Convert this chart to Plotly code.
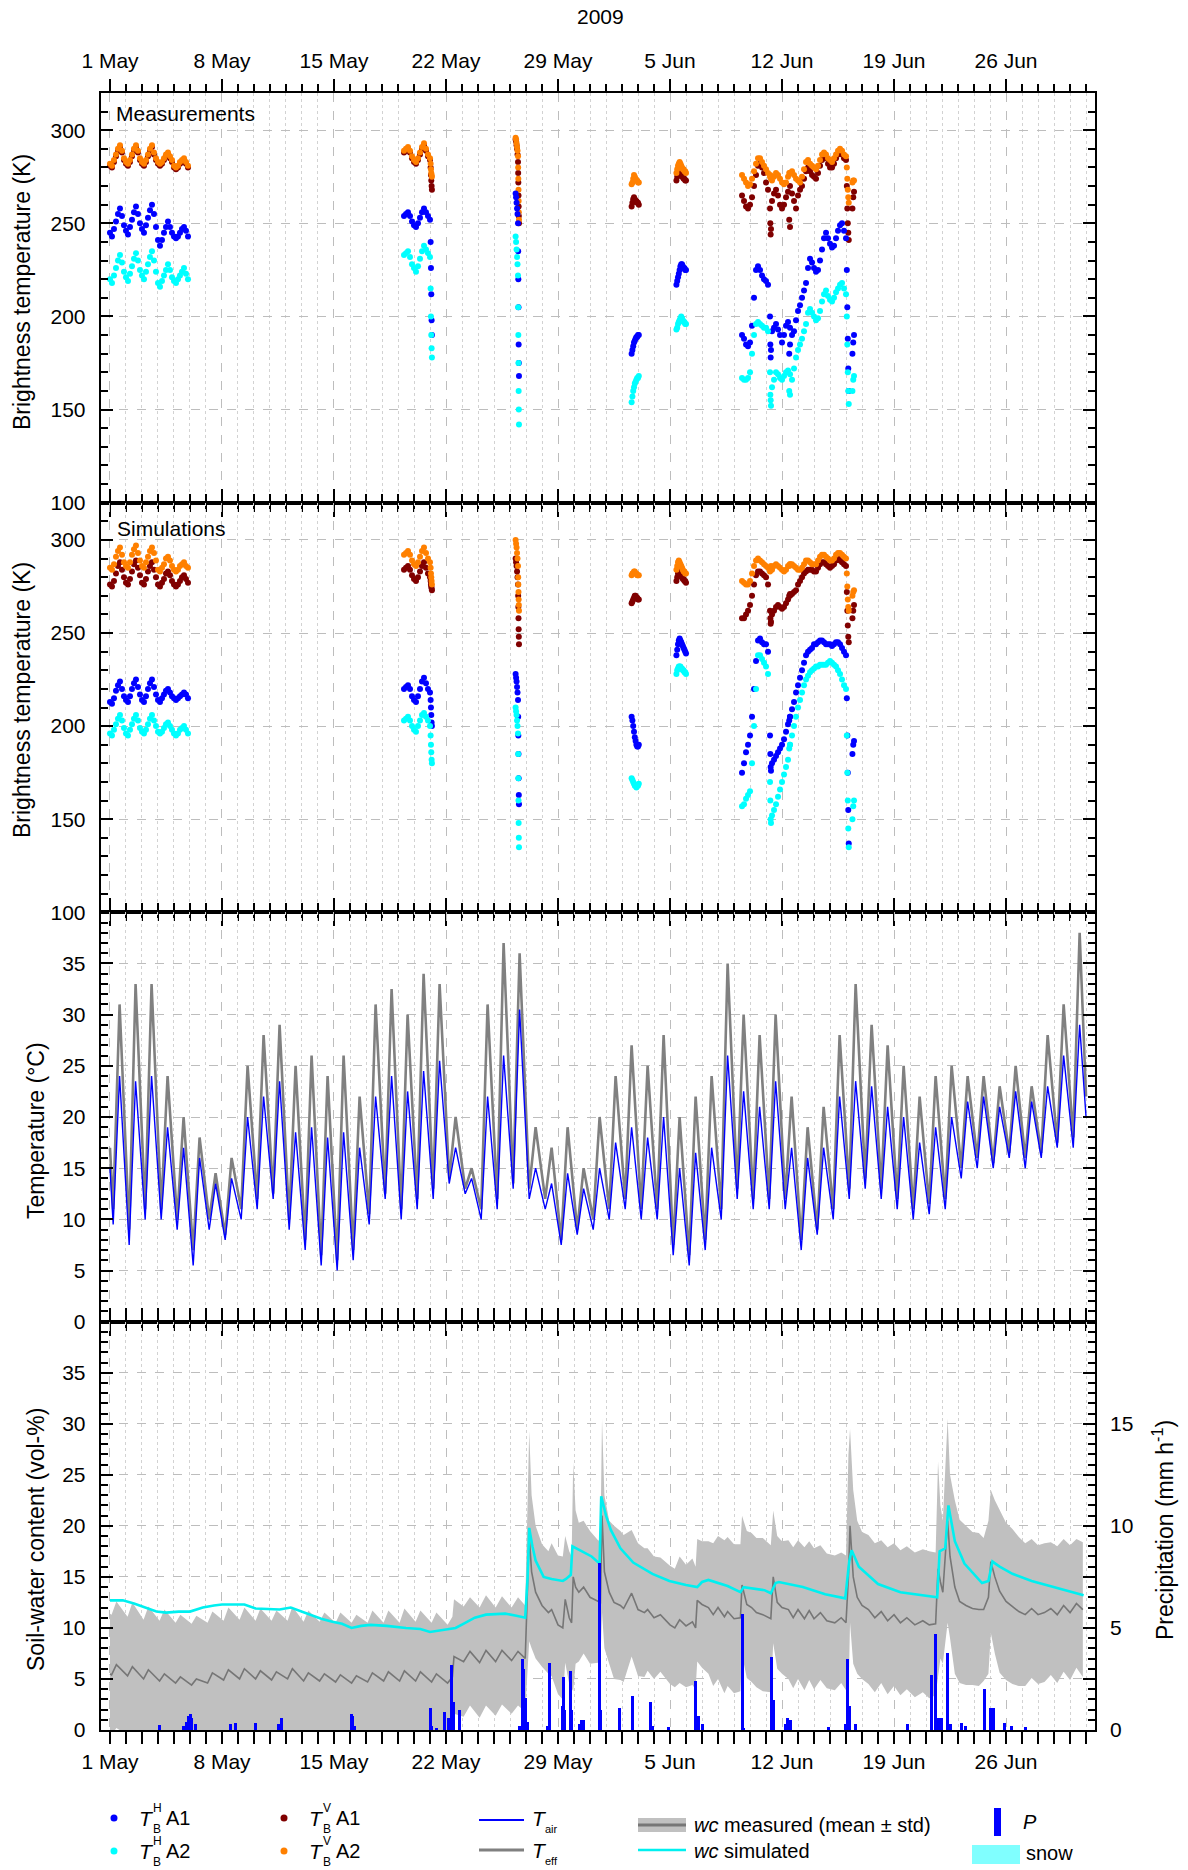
import plotly.graph_objects as go

FONT = "Liberation Sans, Arial, sans-serif"
W, H = 1188, 1870

# ---------------- axis labels ----------------
major_days = [0, 7, 14, 21, 28, 35, 42, 49, 56]
day_labels = ["1 May", "8 May", "15 May", "22 May", "29 May", "5 Jun", "12 Jun", "19 Jun", "26 Jun"]
minor_days = [d for d in range(0, 62) if d % 7 != 0]
year_label = "2009"

# ---------------- brightness temperature time grid (days since 1 May 2009) ----------------
def grid(start, step, n):
    return [round(start + i * step, 4) for i in range(n)]

t_segA = grid(0.0, 0.125, 40)
t_segB = grid(18.375, 0.125, 14) + [20.04, 20.06, 20.08, 20.10, 20.12]
t_segC = [25.35, 25.38, 25.41, 25.44, 25.47, 25.50, 25.51, 25.52, 25.53, 25.54, 25.55, 25.56]
t_segD = grid(32.6, 0.05, 10)
t_segE = grid(35.4, 0.05, 13)
t_segF = grid(39.5, 0.125, 53) + [46.05, 46.08, 46.11, 46.14, 46.17] + [46.40, 46.45, 46.50] + [41.27, 41.29, 41.31, 42.45, 42.50]
t_tb = t_segA + t_segB + t_segC + t_segD + t_segE + t_segF

# ---------------- measured TB (K) ----------------
meas_h1 = [245,243,247,251,255,258,254,249, 246,244,248,252,256,259,255,250, 247,245,249,253,257,260,255,248, 241,238,241,245,248,251,248,245, 243,242,243,245,247,248,246,243,
           254,255,256,254,251,249,248,250,253,256,258,256,254,252, 240,226,212,198,190,
           266,264,261,258,255,250,235,220,205,185,175,168,
           180,182,184,186,187,188,189,189,190,190,
           217,219,221,223,225,227,228,228,227,226,226,225,225,
           190,188,185,184, 186,195,210,225,227,225,222,220, 219,217,200,192,194,196,193,190, 186,190,195,197,194,190,192,198, 203,206,210,214,218,226,231,229, 226,224,225,230,236,242,245,242, 239,237,238,242,246,249,250,246, 242, 225,205,188,172,160, 180,186,190, 185,178,182,180,185]
meas_h2 = [220,218,222,226,230,233,229,224, 221,219,223,227,231,234,230,225, 222,220,224,228,232,235,230,224, 218,216,219,222,225,228,225,221, 219,218,220,222,224,226,223,220,
           233,234,235,232,228,226,224,227,231,235,238,236,234,232, 215,200,190,183,178,
           243,240,236,232,228,222,205,190,175,160,150,142,
           154,157,160,162,164,165,166,167,167,168,
           193,194,196,197,198,199,200,199,198,197,197,196,196,
           167,166,166,167, 170,180,190,196,197,196,195,194, 194,192,170,162,166,170,169,167, 166,168,170,171,169,166,172,178, 182,185,188,192,196,202,204,202, 200,198,199,203,208,212,214,211, 209,208,210,213,215,217,218,215, 212, 200,185,170,160,153, 160,166,168, 158,155,152,160,158]
meas_v1 = [281,280,283,286,289,291,288,284, 282,281,283,286,289,291,288,284, 282,281,283,286,289,291,287,284, 282,281,282,284,286,287,285,283, 280,279,280,282,283,284,282,280,
           288,289,290,288,285,283,282,284,287,290,292,289,286,284, 280,276,273,270,268,
           295,294,292,290,287,283,277,272,265,259,254,250,
           259,261,263,264,263,262,262,261,261,260,
           273,275,277,279,278,277,276,275,275,274,274,273,273,
           265,262,259,258, 260,264,270,276,281,282,280,277, 272,268,258,262,266,268,265,260, 258,260,264,267,270,266,262,258, 265,268,270,274,278,280,278,276, 275,274,277,281,284,286,285,282, 280,280,282,285,287,288,287,285, 284, 270,258,250,245,241, 258,264,267, 250,244,247,252,248]
meas_v2 = [282,281,284,287,290,292,289,285, 283,282,284,287,290,292,289,285, 283,282,284,287,290,292,288,285, 283,282,283,285,287,288,286,284, 281,280,281,283,284,285,283,281,
           289,290,291,289,286,284,283,285,288,291,293,290,287,285, 282,279,277,276,275,
           296,295,293,291,289,286,280,274,268,262,256,252,
           271,272,274,276,275,274,273,273,272,272,
           277,279,281,282,283,282,281,280,279,279,278,278,277,
           276,274,272,270, 271,274,278,282,285,285,283,281, 279,277,275,273,275,277,276,274, 272,271,272,275,277,278,276,274, 273,272,275,279,283,284,282,281, 280,279,281,284,287,288,287,285, 284,283,285,287,289,290,289,287, 286, 280,274,268,264,261, 272,273,273, 276,275,274,277,277]

# ---------------- simulated TB (K) ----------------
sim_h1 = [213,212,215,219,222,224,220,216, 214,213,216,220,223,225,221,217, 214,213,216,220,223,225,221,217, 214,213,215,217,219,220,218,216, 215,214,215,216,217,218,217,215,
          220,221,222,220,216,214,213,216,220,224,226,223,220,218, 214,210,206,202,200,
          228,226,224,221,218,214,205,195,185,172,163,158,
          205,203,200,197,194,192,190,189,189,190,
          238,241,244,246,247,246,245,244,243,242,241,240,239,
          175,180,186,190, 195,205,220,235,246,247,245,244, 244,240,195,180,182,184,186,188, 190,193,197,201,205,209,213,218, 222,226,230,234,238,240,241,242, 244,244,245,246,246,245,244,244, 244,243,244,245,245,244,242,240, 238, 215,195,175,155,137, 185,190,192, 185,178,176,203,205]
sim_h2 = [196,195,198,201,204,206,203,199, 196,195,198,201,204,206,203,199, 197,196,198,201,204,206,203,200, 197,196,197,199,201,202,200,198, 196,195,196,198,199,200,198,196,
          203,204,205,203,200,198,197,200,203,206,207,205,203,200, 195,190,186,182,180,
          210,208,206,203,200,196,185,172,160,148,140,135,
          172,171,170,169,168,168,167,168,168,169,
          228,230,231,232,232,232,231,231,230,230,229,229,228,
          157,158,161,163, 165,180,200,220,238,238,236,234, 232,228,170,152,155,158,162,166, 170,174,178,182,190,195,200,205, 210,214,218,222,225,227,229,230, 231,232,232,233,233,233,233,234, 235,234,233,232,230,228,225,222, 220, 195,175,160,145,135, 150,157,160, 160,150,148,188,190]
sim_v1 = [276,275,278,282,286,288,284,280, 277,276,279,283,287,289,285,281, 277,276,279,283,286,288,284,280, 276,275,277,279,282,283,281,278, 276,275,276,278,280,281,279,277,
          284,285,286,284,281,279,278,280,283,286,288,285,282,280, 278,276,275,274,273,
          290,288,286,283,280,276,270,264,258,252,248,244,
          266,267,268,269,270,270,269,269,268,268,
          278,280,282,283,283,282,281,280,279,279,278,278,277,
          258,258,260,262, 265,270,276,281,283,283,282,281, 280,276,262,260,262,264,265,264, 263,264,266,268,270,271,272,273, 276,278,280,282,283,284,284,284, 283,283,285,287,288,288,287,286, 285,286,287,289,290,289,288,287, 286, 272,262,254,248,245, 258,262,265, 258,255,256,270,271]
sim_v2 = [285,284,287,291,294,296,292,288, 286,285,288,292,295,297,293,289, 286,285,288,291,294,296,293,289, 284,283,285,287,290,291,289,286, 284,283,284,286,287,288,286,285,
          292,293,294,292,289,287,286,288,291,294,296,293,290,288, 285,282,280,278,276,
          300,298,296,293,290,286,280,276,272,268,265,262,
          281,282,282,283,283,282,282,281,281,281,
          284,286,288,289,288,287,286,285,284,283,283,282,282,
          278,277,276,276, 278,282,286,289,290,289,288,287, 286,285,283,284,286,287,286,285, 284,283,284,286,287,287,286,285, 284,284,285,287,289,289,288,287, 287,287,289,291,292,292,291,290, 289,289,290,292,293,293,292,291, 290, 282,275,268,264,262, 270,272,273, 285,284,286,286,287]

# ---------------- air / effective temperature (°C), daily min & max ----------------
air_min = [9.5,7.5,10,10,9,5.5,9,8,10,11, 12,9,7,5.5,5,6,9.5,12,10,11, 12,13.5,12.5,10,11,13,12,11,7.5,8.5,
           9,10,11,10,10,6.5,5.5,7,10,12, 11,11,11,7,8.5,10,12,13,12,11, 10,10.5,11,14,15,15,16,15,16,17, 17]
air_max = [24,23.5,24,19,17,16,13.5,14,20,22, 23.5,18.5,19,18,18.5,17,22,24,22.5,24.5, 25.5,17,14,22,26,30.5,15,13.5,14.5,13,
           15,17.5,19,18,20,15,16.5,17,26,22.5, 21,23.5,17,16,17,22,23.5,23,21,20, 17.5,19,20,21.5,22,21,22.5,21.5,23,26, 29]
eff_min = [11,9,11,11,10,7,10,8.5,11,12, 12.5,10,8,6.5,6,7,10.5,12.5,11,12, 13,14,13,11,12,13.5,13,12,8,9,
           10,11,12,11,11,7.5,6.5,8,11,13, 12,12,12,8,9,11,13,14,13,12, 11,11.5,12,15,16,15.5,16.5,16,16.5,17.5, 18]
eff_max = [31,33,33,24,20,18,14.5,16,25,28, 29,25,26,24,26,22,31,32.5,30,34, 33,20,15,31,37,36,19,17,19,15,
           20,24,27,25,28,20,22,24,35,30, 28,30,22,19,21,28,33,29,27,25, 22,24,25,24,24,23,25,23,28,31, 38]
temp_start = (15.0, 17.0)   # (T_air, T_eff) at 1 May 00:00
temp_end = (20.0, 22.0)     # (T_air, T_eff) at 1 Jul 00:00

# ---------------- soil-water content (vol-%) ----------------
wc_t = [0.0, 0.1, 0.4, 1.1, 1.4, 2.1, 2.4, 3.1, 3.4, 4.1, 4.4, 5.1, 5.4, 6.1, 6.4, 7.1, 7.4, 8.1, 8.4, 9.1, 9.4,
        10.1, 10.4, 11.1, 11.4, 12.1, 12.4, 13.1, 13.4, 14.1, 14.4, 15.1, 15.4, 16.1, 16.4, 17.1, 17.4, 18.1, 18.4,
        19.1, 19.4, 20.1, 20.4, 21.1, 21.4,
        21.5, 22.1, 22.5, 23.1, 23.5, 24.1, 24.5, 25.1, 25.5, 25.95,
        26.1, 26.2, 26.35, 26.6, 27.0, 27.4, 27.6, 28.0, 28.3, 28.45,
        28.7, 28.85, 28.95, 29.1, 29.3, 29.6, 30.0, 30.5, 30.65, 30.75,
        30.9, 31.2, 31.5, 31.9, 32.1, 32.6, 33.0, 33.4, 33.6, 34.0,
        34.4, 35.0, 35.3, 35.6, 36.0, 36.4, 36.6, 36.7, 37.0, 37.4,
        37.7, 38.0, 38.4, 38.6, 39.0, 39.4, 39.5, 39.8, 40.1, 40.4,
        40.8, 41.3, 41.45, 41.7, 42.0, 42.4, 42.7, 43.0, 43.4, 43.7,
        44.0, 44.4, 44.8, 45.3, 45.7, 46.0, 46.15, 46.25, 46.45, 46.7,
        47.0, 47.4, 47.8, 48.2, 48.6, 49.0, 49.4, 49.8, 50.3, 50.8,
        51.2, 51.6, 51.75, 51.9, 52.05, 52.35, 52.5, 52.8, 53.1, 53.5,
        53.9, 54.3, 54.6, 54.9, 55.05, 55.3, 55.6, 56.0, 56.4, 56.8,
        57.2, 57.6, 58.0, 58.4, 58.8, 59.2, 59.6, 60.0, 60.4, 60.8]
wc_mean = [5.5, 5.4, 6.4, 5.3, 6.2, 5.0, 5.9, 4.8, 5.5, 4.6, 5.2, 4.4, 5.0, 4.6, 5.6, 4.9, 5.9, 5.0, 6.0, 5.0, 5.8,
           4.9, 5.7, 5.0, 6.0, 4.8, 5.6, 4.8, 5.5, 4.7, 5.4, 4.6, 5.3, 4.7, 5.6, 4.8, 5.7, 4.8, 5.8,
           4.8, 5.7, 4.7, 5.5, 4.6, 5.2,
           7.2, 6.7, 7.7, 6.6, 7.8, 6.7, 7.8, 6.8, 7.7, 7.0,
           15.0, 19.0, 15.5, 13.5, 12.2, 11.5, 11.8, 10.3, 10.0, 12.8,
           11.0, 10.5, 15.0, 14.0, 13.5, 14.0, 13.0, 12.6, 12.5, 21.0,
           15.5, 13.5, 12.5, 12.2, 11.9, 13.4, 11.8, 11.5, 11.8, 11.0,
           11.3, 10.3, 10.0, 10.8, 10.2, 10.6, 10.0, 12.7, 12.3, 12.0,
           11.3, 12.0, 11.1, 11.6, 10.9, 11.0, 14.2, 12.3, 12.0, 11.5,
           11.3, 10.9, 15.0, 12.5, 12.0, 11.8, 11.0, 11.8, 10.9, 11.7,
           10.9, 11.5, 10.7, 10.5, 11.0, 10.5, 15.0, 20.0, 15.0, 13.0,
           12.2, 11.8, 11.0, 11.6, 10.7, 11.3, 10.5, 11.0, 10.3, 10.7,
           10.3, 10.4, 15.8, 14.5, 13.5, 20.5, 17.0, 14.0, 12.6, 12.2,
           11.9, 11.8, 11.8, 13.0, 16.5, 15.0, 13.6, 12.6, 12.1, 11.6,
           11.3, 11.9, 11.3, 11.5, 11.9, 11.3, 12.2, 11.5, 12.4, 11.8]
wc_std = [5.9, 5.9, 6.2, 5.8, 6.3, 5.8, 6.2, 5.9, 6.3, 5.9, 6.1, 6.0, 6.2, 5.9, 6.0, 5.8, 6.1, 5.8, 6.0, 5.7, 6.1,
          5.8, 6.0, 5.7, 6.1, 5.8, 6.1, 5.8, 6.0, 5.8, 6.1, 5.9, 6.0, 5.8, 6.1, 5.7, 6.0, 5.7, 6.1,
          5.8, 6.0, 5.8, 6.0, 5.7, 5.9,
          5.6, 5.4, 5.3, 5.4, 5.4, 5.3, 5.3, 5.2, 5.3, 5.2,
          9.0, 10.3, 7.5, 6.5, 6.0, 6.0, 6.5, 6.8, 7.0, 6.2,
          6.5, 6.5, 11.2, 7.5, 6.8, 6.5, 6.5, 6.0, 6.0, 9.5,
          7.5, 7.0, 7.5, 7.3, 7.2, 6.2, 6.5, 6.3, 6.0, 6.0,
          5.6, 5.8, 5.8, 6.2, 6.0, 6.2, 6.0, 6.0, 6.2, 6.5,
          7.0, 7.0, 7.5, 7.3, 7.3, 7.2, 6.8, 7.2, 7.3, 7.3,
          7.5, 7.2, 6.5, 6.5, 6.5, 6.8, 6.9, 6.8, 7.0, 6.8,
          6.9, 6.6, 6.6, 6.6, 6.4, 6.6, 12.0, 9.5, 8.5, 7.5,
          7.2, 7.3, 7.3, 7.0, 7.2, 7.0, 7.1, 7.0, 7.1, 7.0,
          7.2, 7.0, 10.5, 7.5, 7.0, 10.0, 8.0, 8.5, 8.0, 7.8,
          7.5, 7.5, 7.0, 7.5, 7.0, 7.5, 8.0, 7.7, 7.6, 7.3,
          7.0, 6.8, 6.8, 6.8, 6.5, 6.7, 6.5, 6.6, 6.3, 6.6]

wcs_t = [0, 0.8, 1.5, 2.2, 2.9, 3.5, 4.3, 5.0, 5.8, 6.5, 7.0, 8.0, 8.4, 9.1, 10.0, 10.6, 11.3, 12.0, 12.6, 13.2,
         13.9, 14.5, 15.1, 15.7, 16.3, 17.3, 18.5, 19.4, 20.0, 20.9, 21.6, 22.2, 22.8, 23.5, 24.7, 25.4, 25.95,
         26.1, 26.2, 26.4, 26.6, 27.1, 27.6, 28.3, 28.5, 28.8, 28.9, 29.5, 30.1, 30.6, 30.7, 31.0, 31.3, 31.9,
         32.7, 33.9, 34.96, 36.0, 36.7, 37.0, 37.4, 38.6, 39.4, 39.6, 40.9, 41.3, 41.6, 41.8, 43.3, 44.7, 45.95,
         46.2, 46.35, 46.8, 48.0, 49.4, 51.7, 51.85, 52.2, 52.4, 52.8, 53.4, 54.5, 54.9, 55.15, 55.6, 56.4,
         57.6, 59.2, 60.85]
wcs_v = [12.7, 12.7, 12.4, 12.0, 11.6, 11.5, 11.6, 11.6, 12.0, 12.2, 12.3, 12.3, 12.3, 11.9, 11.8, 11.8, 12.0, 11.6, 11.2, 10.9,
         10.6, 10.4, 10.0, 10.2, 10.3, 10.2, 10.0, 9.9, 9.6, 9.8, 10.0, 10.5, 11.0, 11.3, 11.4, 11.2, 11.0,
         15.0, 19.8, 18.0, 16.6, 15.0, 14.8, 14.6, 14.8, 15.2, 18.0, 17.5, 17.0, 16.3, 22.9, 21.0, 19.6, 17.8,
         16.4, 15.3, 14.6, 14.2, 14.0, 14.5, 14.7, 14.1, 13.5, 14.0, 13.7, 13.4, 14.4, 14.5, 14.0, 13.3, 12.9,
         16.5, 17.6, 16.0, 14.3, 13.5, 13.0, 17.5, 17.8, 22.0, 18.5, 16.3, 14.4, 14.6, 16.5, 16.0, 15.3,
         14.6, 13.9, 13.2]

# ---------------- precipitation (mm/h) ----------------
p_t = [3.1, 4.6, 4.75, 4.9, 5.0, 5.1, 5.3, 7.5, 7.8, 9.1, 10.5, 10.7, 15.05, 15.15, 15.25,
       20.0, 20.1, 20.4, 20.9, 21.15, 21.35, 21.45, 21.8, 25.6, 25.75, 25.85, 25.95, 26.05,
       27.3, 27.45, 28.25, 28.3, 28.4, 28.75, 28.85, 29.3, 29.45, 29.55, 30.55, 30.65, 31.85, 32.65,
       33.75, 33.9, 34.9, 36.6, 36.75, 37.0, 39.5, 39.6, 41.3, 41.45, 42.2, 42.35, 42.5, 44.9,
       45.95, 46.05, 46.2, 46.55, 49.8, 51.35, 51.6, 51.75, 51.95, 52.3, 52.5, 53.2, 53.45,
       54.65, 55.0, 55.1, 55.2, 55.9, 56.3, 57.2]
p_v = [0.25, 0.2, 0.4, 0.7, 0.8, 0.6, 0.3, 0.3, 0.35, 0.35, 0.3, 0.6, 0.8, 0.7, 0.2,
       1.1, 0.2, 0.1, 0.9, 0.6, 3.2, 1.4, 1.0, 0.2, 3.5, 3.0, 1.6, 0.4,
       0.2, 3.3, 1.2, 2.6, 1.0, 2.9, 1.0, 0.3, 0.5, 0.5, 8.2, 1.0, 1.1, 1.7,
       1.4, 0.2, 0.15, 2.4, 0.7, 0.3, 5.7, 0.1, 3.6, 1.5, 0.3, 0.6, 0.5, 0.15,
       0.3, 3.5, 1.2, 0.3, 0.3, 2.7, 4.7, 0.6, 0.6, 3.8, 0.3, 0.35, 0.2,
       2.0, 1.1, 1.1, 1.1, 0.35, 0.2, 0.15]

# ---------------- colours ----------------
C_H1, C_H2, C_V1, C_V2 = "#0000ff", "#00ffff", "#800000", "#ff8000"
C_AIR, C_EFF = "#0000ff", "#808080"
C_BAND, C_MEAN, C_SIM, C_P, C_SNOW = "#c0c0c0", "#767676", "#00f0f0", "#0000ff", "#80ffff"

# ---------------- geometry ----------------
X0, X1 = 100.7, 1095.0
PANELS = [(93.0, 502.7), (502.7, 912.3), (912.3, 1321.7), (1321.7, 1730.0)]
XR = [-0.58, 61.56]


def fx(px):
    return px / W


def fy(py):
    return 1 - py / H


TICKFONT = dict(family=FONT, size=21, color="black")


def xaxis_cfg(show_labels, side, anchor, standoff):
    return dict(domain=[fx(X0), fx(X1)], range=XR, anchor=anchor, side=side,
                tickmode="array", tickvals=major_days, ticktext=day_labels, showticklabels=show_labels,
                ticks="outside", ticklen=12, tickwidth=2, tickcolor="black",
                showline=True, linewidth=2, linecolor="black", mirror="allticks",
                showgrid=True, gridcolor="#bdbdbd", griddash="dash", gridwidth=1, zeroline=False,
                minor=dict(tickmode="array", tickvals=minor_days, ticks="outside", ticklen=7, tickwidth=2,
                           tickcolor="black", showgrid=True, gridcolor="#d2d2d2", griddash="dot", gridwidth=1),
                tickfont=TICKFONT, ticklabelstandoff=standoff, automargin=False, fixedrange=True)


def yaxis_cfg(p, rng, majors, minors, anchor):
    top, bot = PANELS[p]
    return dict(domain=[fy(bot), fy(top)], range=rng, anchor=anchor,
                tickmode="array", tickvals=majors, ticks="inside", ticklen=12, tickwidth=2, tickcolor="black",
                showline=True, linewidth=2, linecolor="black", mirror="allticks",
                showgrid=True, gridcolor="#bdbdbd", griddash="dash", gridwidth=1, zeroline=False,
                minor=dict(tickmode="array", tickvals=minors, ticks="inside", ticklen=7, tickwidth=2,
                           tickcolor="black", showgrid=False),
                tickfont=TICKFONT, ticklabelstandoff=9, automargin=False, fixedrange=True)


tb_major = [100, 150, 200, 250, 300]
tb_minor = [v for v in range(110, 320, 10) if v % 50 != 0]
t_major = [0, 5, 10, 15, 20, 25, 30, 35]
t_minor = [v for v in range(1, 40) if v % 5 != 0]

fig = go.Figure()

# ---- panels 1 & 2: brightness temperatures ----
for (xa, ya, h1, h2, v1, v2) in [("x", "y", meas_h1, meas_h2, meas_v1, meas_v2),
                                 ("x2", "y2", sim_h1, sim_h2, sim_v1, sim_v2)]:
    for vals, col in [(v1, C_V1), (v2, C_V2), (h1, C_H1), (h2, C_H2)]:
        n = min(len(t_tb), len(vals))
        fig.add_trace(go.Scatter(x=t_tb[:n], y=vals[:n], mode="markers",
                                 marker=dict(size=6, color=col, line=dict(width=0)),
                                 xaxis=xa, yaxis=ya, showlegend=False, hoverinfo="skip"))

# ---- panel 3: temperatures ----
t_temp = [0.0]
air = [temp_start[0]]
eff = [temp_start[1]]
for d in range(len(air_min)):
    t_temp += [d + 0.2, d + 0.6]
    air += [air_min[d], air_max[d]]
    eff += [eff_min[d], eff_max[d]]
t_temp.append(61.0)
air.append(temp_end[0])
eff.append(temp_end[1])

fig.add_trace(go.Scatter(x=t_temp, y=eff, mode="lines", line=dict(color=C_EFF, width=2.6),
                         xaxis="x3", yaxis="y3", showlegend=False, hoverinfo="skip"))
fig.add_trace(go.Scatter(x=t_temp, y=air, mode="lines", line=dict(color=C_AIR, width=1.4),
                         xaxis="x3", yaxis="y3", showlegend=False, hoverinfo="skip"))

# ---- panel 4: soil water & precipitation ----
wc_up = [m + s for m, s in zip(wc_mean, wc_std)]
wc_lo = [m - s for m, s in zip(wc_mean, wc_std)]
fig.add_trace(go.Scatter(x=wc_t, y=wc_up, mode="lines", line=dict(width=0, color=C_BAND),
                         xaxis="x4", yaxis="y4", showlegend=False, hoverinfo="skip"))
fig.add_trace(go.Scatter(x=wc_t, y=wc_lo, mode="lines", line=dict(width=0, color=C_BAND),
                         fill="tonexty", fillcolor=C_BAND,
                         xaxis="x4", yaxis="y4", showlegend=False, hoverinfo="skip"))
fig.add_trace(go.Scatter(x=wc_t, y=wc_mean, mode="lines", line=dict(color=C_MEAN, width=1.6),
                         xaxis="x4", yaxis="y4", showlegend=False, hoverinfo="skip"))
fig.add_trace(go.Scatter(x=wcs_t, y=wcs_v, mode="lines", line=dict(color=C_SIM, width=2.6),
                         xaxis="x4", yaxis="y4", showlegend=False, hoverinfo="skip"))
fig.add_trace(go.Bar(x=p_t, y=p_v, width=0.18, marker=dict(color=C_P, line=dict(width=0)),
                     xaxis="x4", yaxis="y5", showlegend=False, hoverinfo="skip"))

layout = dict(
    width=W, height=H, autosize=False,
    margin=dict(l=0, r=0, t=0, b=0),
    paper_bgcolor="white", plot_bgcolor="white",
    font=dict(family=FONT, size=21, color="black"),
    xaxis=xaxis_cfg(True, "top", "y", 3),
    xaxis2=xaxis_cfg(False, "bottom", "y2", 0),
    xaxis3=xaxis_cfg(False, "bottom", "y3", 0),
    xaxis4=xaxis_cfg(True, "bottom", "y4", 0),
    yaxis=yaxis_cfg(0, [100, 320], tb_major, tb_minor, "x"),
    yaxis2=yaxis_cfg(1, [100, 320], tb_major, tb_minor, "x2"),
    yaxis3=yaxis_cfg(2, [0, 40], t_major, t_minor, "x3"),
    yaxis4=yaxis_cfg(3, [0, 40], t_major, t_minor, "x4"),
    yaxis5=dict(overlaying="y4", side="right", anchor="x4", range=[0, 20],
                tickmode="array", tickvals=[0, 5, 10, 15], ticks="", showline=False,
                showgrid=False, zeroline=False, tickfont=TICKFONT, ticklabelstandoff=14,
                automargin=False, fixedrange=True),
    bargap=0, showlegend=False,
)
fig.update_layout(**layout)

ann = []
shapes = []


def text(x, y, s, size=21, anchor="left", angle=0, italic=False):
    ann.append(dict(x=fx(x), y=fy(y), xref="paper", yref="paper", text=(f"<i>{s}</i>" if italic else s),
                    showarrow=False, xanchor=anchor, yanchor="middle", textangle=angle,
                    font=dict(family=FONT, size=size, color="black")))


text(600, 17, year_label, 21, "center")
text(114, 114, "Measurements", 21)
text(115, 528, "Simulations", 21)
text(22, 292, "Brightness temperature (K)", 23, "center", -90)
text(22, 700, "Brightness temperature (K)", 23, "center", -90)
text(36, 1131, "Temperature (°C)", 23, "center", -90)
text(36, 1540, "Soil-water content (vol-%)", 23, "center", -90)
text(1163, 1530, "Precipitation (mm h<sup>-1</sup>)", 23, "center", -90)

# ---- legend ----
R1, R2 = 1818, 1851


def dot(x, y, col):
    shapes.append(dict(type="circle", xref="paper", yref="paper", x0=fx(x - 3.5), x1=fx(x + 3.5),
                       y0=fy(y + 3.5), y1=fy(y - 3.5), fillcolor=col, line=dict(width=0)))


def tb_label(xT, y, sup, tail):
    text(xT, y, "T", 21, italic=True)
    text(xT + 14, y - 10, sup, 12)
    text(xT + 14, y + 11, "B", 12)
    text(xT + 27, y, tail, 20)


dot(114, R1, C_H1); tb_label(137, R1, "H", "A1")
dot(114, R2, C_H2); tb_label(137, R2, "H", "A2")
dot(284, R1, C_V1); tb_label(307, R1, "V", "A1")
dot(284, R2, C_V2); tb_label(307, R2, "V", "A2")

shapes.append(dict(type="line", xref="paper", yref="paper", x0=fx(479), x1=fx(524), y0=fy(1820), y1=fy(1820),
                   line=dict(color=C_AIR, width=2)))
shapes.append(dict(type="line", xref="paper", yref="paper", x0=fx(479), x1=fx(524), y0=fy(1850), y1=fy(1850),
                   line=dict(color=C_EFF, width=3)))
text(530, 1818, "T", 21, italic=True)
text(543, 1829, "air", 11)
text(530, 1850, "T", 21, italic=True)
text(543, 1861, "eff", 11)

shapes.append(dict(type="rect", xref="paper", yref="paper", x0=fx(638), x1=fx(686), y0=fy(1832), y1=fy(1818),
                   fillcolor=C_BAND, line=dict(width=0)))
shapes.append(dict(type="line", xref="paper", yref="paper", x0=fx(638), x1=fx(686), y0=fy(1825), y1=fy(1825),
                   line=dict(color=C_MEAN, width=3)))
text(692, 1825, "<i>wc</i> measured (mean ± std)", 20)
shapes.append(dict(type="line", xref="paper", yref="paper", x0=fx(638), x1=fx(686), y0=fy(1850), y1=fy(1850),
                   line=dict(color=C_SIM, width=2.5)))
text(692, 1851, "<i>wc</i> simulated", 20)

shapes.append(dict(type="rect", xref="paper", yref="paper", x0=fx(994), x1=fx(1001), y0=fy(1836), y1=fy(1808),
                   fillcolor=C_P, line=dict(width=0)))
text(1021, 1822, "P", 20, italic=True)
shapes.append(dict(type="rect", xref="paper", yref="paper", x0=fx(972), x1=fx(1020), y0=fy(1864), y1=fy(1845),
                   fillcolor=C_SNOW, line=dict(width=0)))
text(1024, 1853, "snow", 20)

fig.update_layout(annotations=ann, shapes=shapes)
fig.write_html("out.html")
